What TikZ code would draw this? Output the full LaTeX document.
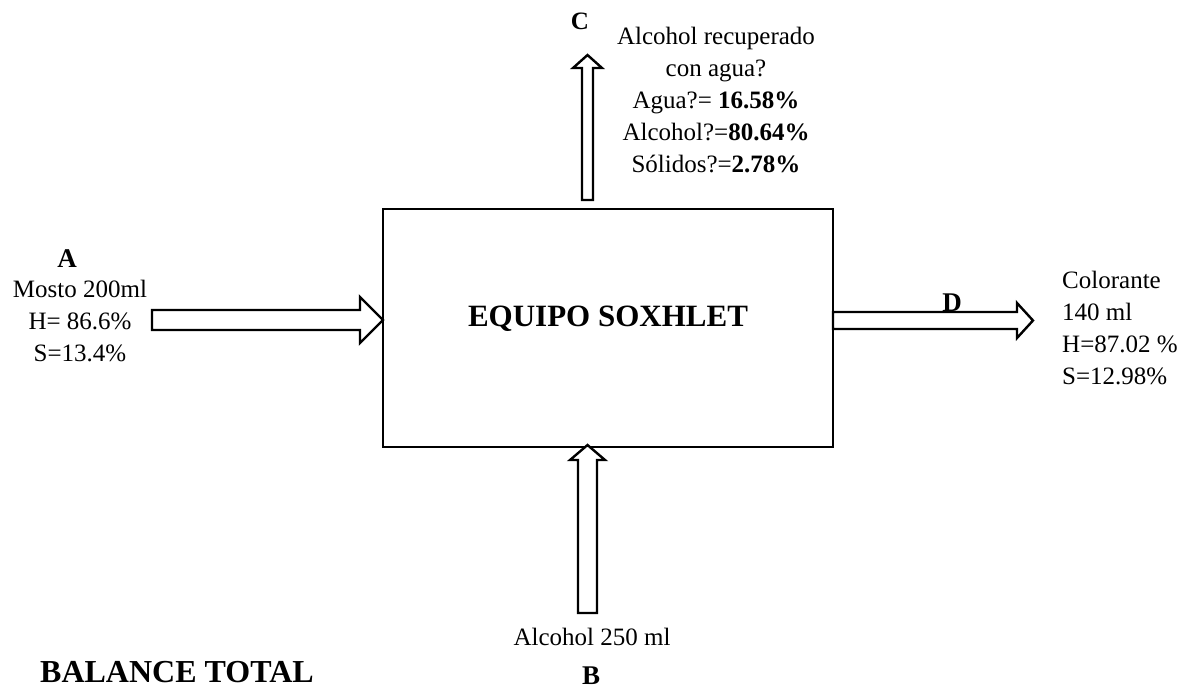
\documentclass[tikz,border=0pt]{standalone}
\usepackage{fontspec}
\setmainfont{Liberation Serif}

\begin{document}
\begin{tikzpicture}[x=1pt,y=-1pt,
    flecha/.style={draw,fill=white,line width=2.4pt,line join=miter},
    dato/.style={font=\fontsize{25}{32}\selectfont,inner sep=0pt},
    letra/.style={font=\fontsize{27}{27}\selectfont\bfseries,inner sep=0pt}]
    \useasboundingbox (0,0) rectangle (1189,691);
    % Equipo
    \node[draw,line width=2.4pt,minimum width=450,minimum height=238,inner sep=0pt]
          (equipo) at (608,328) {};
    \node[font=\fontsize{31}{31}\selectfont\bfseries,inner sep=0pt]
          (nombre) at (608,319) {EQUIPO SOXHLET};
    % Puntas de las flechas
    \coordinate (puntaA) at (383,320);
    \coordinate (puntaB) at (587.5,445);
    \coordinate (puntaC) at (587.5,55);
    \coordinate (puntaD) at (1033,320.5);
    % Entrada A
    \draw[flecha] (puntaA) -- ++(-23,-23) -- ++(0,13) -- ++(-208,0) -- ++(0,20)
        -- ++(208,0) -- ++(0,13) -- cycle;
    \node[letra] (A) at (67,259) {A};
    \node[dato,align=center] (mosto) at (80,321) {Mosto 200ml\\H= 86.6\%\\S=13.4\%};
    % Entrada B
    \draw[flecha] (puntaB) -- ++(17.5,15) -- ++(-8,0) -- ++(0,153) -- ++(-19,0)
        -- ++(0,-153) -- ++(-8,0) -- cycle;
    \node[dato,anchor=base] (alcohol) at (592,645) {Alcohol 250 ml};
    \node[letra,anchor=north] (B) at (591,667) {B};
    % Salida C
    \draw[flecha] (puntaC) -- ++(14.5,13) -- ++(-9,0) -- ++(0,132) -- ++(-11,0)
        -- ++(0,-132) -- ++(-9,0) -- cycle;
    \node[letra,font=\fontsize{25}{25}\selectfont\bfseries] (C) at (580,21) {C};
    \node[dato,align=center] (recuperado) at (716,100)
        {Alcohol recuperado\\con agua?\\Agua?= \textbf{16.58\%}\\
         Alcohol?=\textbf{80.64\%}\\Sólidos?=\textbf{2.78\%}};
    % Salida D
    \draw[flecha] (puntaD) -- ++(-16,-17.5) -- ++(0,9) -- ++(-184,0) -- ++(0,17)
        -- ++(184,0) -- ++(0,9) -- cycle;
    \node[letra,anchor=south] (D) at (952,312) {D};
    \node[dato,align=left,anchor=west] (colorante) at (1062,328)
        {Colorante\\140 ml\\H=87.02 \%\\S=12.98\%};
    % Titulo
    \node[font=\fontsize{32}{32}\selectfont\bfseries,anchor=west,inner sep=0pt]
          (balance) at (40,672) {BALANCE TOTAL};
\end{tikzpicture}
\end{document}
